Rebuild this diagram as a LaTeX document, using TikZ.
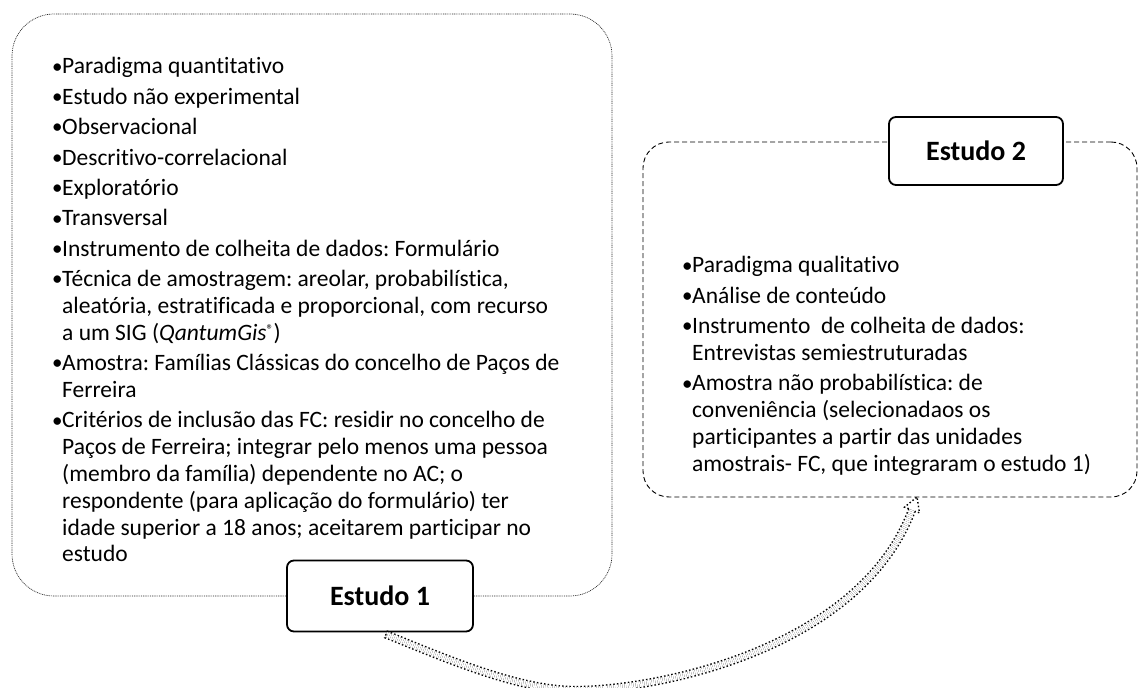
\documentclass[tikz,border=0pt]{standalone}
\usepackage{fontspec}
\setmainfont{Carlito}[Ligatures=NoCommon]
\usetikzlibrary{calc}
\newcommand\bitem{\par\hangindent=10pt\hangafter=1\noindent\makebox[10pt][l]{\raisebox{0.8pt}{\fontsize{21}{21}\selectfont •}}}
\begin{document}
\begin{tikzpicture}[x=1pt,y=1pt,
  dotbox/.style={draw=black!85, line width=0.7pt, dash pattern=on 0.9pt off 0.9pt, rounded corners=42pt, inner sep=0pt, outer sep=0pt},
  dashbox/.style={draw=black, line width=0.9pt, dash pattern=on 5pt off 3pt, rounded corners=26pt, inner sep=0pt, outer sep=0pt},
  studylabel/.style={draw=black, line width=1.8pt, rounded corners=7pt, fill=white, font=\fontsize{28}{30}\selectfont\bfseries, inner sep=0pt},
  shaft/.style={draw=black, double=white, double distance=5.5pt, line width=1.4pt, dash pattern=on 1.5pt off 2.2pt},
  tipline/.style={draw=black, line width=1.4pt, dash pattern=on 1.5pt off 2.2pt},
  listtext/.style={anchor=base west, inner sep=0pt, font=\fontsize{23.5}{26.8}\selectfont}
]
\useasboundingbox (0,0) rectangle (1138,688);
% containers
\node[dotbox, minimum width=600pt, minimum height=582pt, anchor=south west] (box1) at (12,92) {};
\node[dashbox, minimum width=494pt, minimum height=355pt, anchor=south west] (box2) at (643,191) {};
% labels
\node[studylabel, minimum width=186pt, minimum height=71pt] (e1) at (380,92) {Estudo 1};
\node[studylabel, minimum width=174pt, minimum height=68pt] (e2) at (976,537) {Estudo 2};
% texts
\node[listtext] (t1) at (52,614) {\parbox[t]{640pt}{\frenchspacing\parskip=3.6pt\hyphenpenalty=10000
\bitem Paradigma quantitativo
\bitem Estudo não experimental
\bitem Observacional
\bitem Descritivo-correlacional
\bitem Exploratório
\bitem Transversal
\bitem Instrumento de colheita de dados: Formulário
\bitem Técnica de amostragem: areolar, probabilística,\newline aleatória, estratificada e proporcional, com recurso\newline a um SIG (\textit{QantumGis}{\fontsize{14}{14}\selectfont\raisebox{6pt}{®}})
\bitem Amostra: Famílias Clássicas do concelho de Paços de\newline Ferreira
\bitem Critérios de inclusão das FC: residir no concelho de\newline Paços de Ferreira; integrar pelo menos uma pessoa\newline (membro da família) dependente no AC; o\newline respondente (para aplicação do formulário) ter\newline idade superior a 18 anos; aceitarem participar no\newline estudo\par}};
\node[listtext] (t2) at (682,415) {\parbox[t]{480pt}{\frenchspacing\parskip=3.6pt\hyphenpenalty=10000
\bitem Paradigma qualitativo
\bitem Análise de conteúdo
\bitem Instrumento \ de colheita de dados:\newline Entrevistas semiestruturadas
\bitem Amostra não probabilística: de\newline conveniência (selecionadaos os\newline participantes a partir das unidades\newline amostrais- FC, que integraram o estudo 1)\par}};
% curved block arrow
\coordinate (s) at ([xshift=6pt,yshift=-2pt]e1.south);
\coordinate (b) at (575,-2);
\coordinate (h) at ([xshift=22pt,yshift=-13pt]box2.south);
\draw[shaft] (s) .. controls +(64,-26) and +(-55,0) .. (b) .. controls +(85,0) and +(-52,-138) .. (h);
\draw[tipline] ($(s)+(68:4)$) -- ($(s)+(248:4)$);
\begin{scope}[shift={(h)}, rotate=-21]
\draw[tipline] (-3.45,0) -- (-8,0) -- (0,14) -- (8,0) -- (3.45,0);
\end{scope}
\end{tikzpicture}
\end{document}
